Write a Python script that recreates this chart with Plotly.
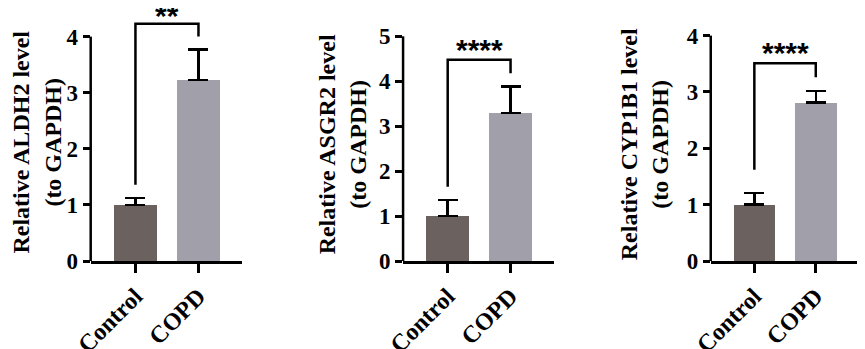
import plotly.graph_objects as go

categories = ["Control", "COPD"]
genes = ["ALDH2", "ASGR2", "CYP1B1"]
means = {"ALDH2": [1.0, 3.23], "ASGR2": [1.0, 3.29], "CYP1B1": [1.0, 2.81]}
sd_up = {"ALDH2": [0.12, 0.54], "ASGR2": [0.36, 0.59], "CYP1B1": [0.21, 0.21]}
sig_labels = {"ALDH2": "**", "ASGR2": "****", "CYP1B1": "****"}
# bracket: top level, left leg bottom, right leg bottom, star level
brackets = {"ALDH2": [4.23, 1.36, 4.0, 4.38],
            "ASGR2": [4.48, 1.65, 4.18, 4.70],
            "CYP1B1": [3.51, 1.62, 3.26, 3.70]}
y_ticks = {"ALDH2": [0, 1, 2, 3, 4], "ASGR2": [0, 1, 2, 3, 4, 5], "CYP1B1": [0, 1, 2, 3, 4]}
y_top = {"ALDH2": 4.51, "ASGR2": 5.63, "CYP1B1": 4.49}

bar_colors = ["#6b625f", "#a19fa9"]
x_domains = [[0.0965, 0.273], [0.461, 0.637], [0.820, 0.992]]
title_pos = [(-0.355, 0.468), (-0.40, 0.46), (-0.45, 0.463)]
x_range = [-0.71, 1.69]

fig = go.Figure()
serif = "Liberation Serif, Times New Roman, serif"

for i, g in enumerate(genes):
    xa = "x" if i == 0 else f"x{i+1}"
    ya = "y" if i == 0 else f"y{i+1}"
    fig.add_trace(go.Bar(
        x=categories, y=means[g], xaxis=xa, yaxis=ya,
        marker=dict(color=bar_colors, line=dict(width=0)),
        width=0.68,
        error_y=dict(type="data", array=sd_up[g], arrayminus=[0, 0], symmetric=False,
                     color="black", thickness=2.5, width=10),
        showlegend=False,
    ))
    top, lbot, rbot, star = brackets[g]
    fig.add_trace(go.Scatter(
        x=[categories[0], categories[0], categories[1], categories[1]],
        y=[lbot, top, top, rbot], xaxis=xa, yaxis=ya, mode="lines",
        line=dict(color="black", width=2.5), showlegend=False, hoverinfo="skip",
        cliponaxis=False,
    ))
    fig.add_annotation(x=0.5, y=star, xref=xa, yref=ya, text=f"<b>{sig_labels[g]}</b>",
                       showarrow=False, font=dict(family="Liberation Sans, Arial", size=30, color="black"),
                       yanchor="middle")
    # y axis title
    tx, ty = title_pos[i]
    fig.add_annotation(x=tx, y=ty, xref=f"{xa} domain", yref=f"{ya} domain",
                       text=f"<b>Relative {g} level<br>(to GAPDH)</b>", textangle=-90,
                       showarrow=False, xanchor="center", yanchor="middle",
                       font=dict(family=serif, size=24, color="black"))
    # y axis line only up to the last tick
    fig.add_shape(type="line", xref=f"{xa} domain", yref=ya, x0=0, x1=0,
                  y0=y_ticks[g][0], y1=y_ticks[g][-1], line=dict(color="black", width=2.5))

    xkey = "xaxis" if i == 0 else f"xaxis{i+1}"
    ykey = "yaxis" if i == 0 else f"yaxis{i+1}"
    fig.update_layout(**{
        xkey: dict(domain=x_domains[i], anchor=ya, type="category", range=x_range,
                   automargin=False,
                   tickvals=categories, ticktext=[f"<b>{c}</b>" for c in categories],
                   showline=True, linecolor="black", linewidth=2.5,
                   ticks="outside", ticklen=9, tickwidth=2.5, tickcolor="black",
                   tickangle=-45, showgrid=False, zeroline=False,
                   tickfont=dict(family=serif, size=24, color="black")),
        ykey: dict(domain=[0, 1], anchor=xa, range=[0, y_top[g]], automargin=False,
                   tickvals=y_ticks[g], ticktext=[f"<b>{t}</b>" for t in y_ticks[g]],
                   showline=False, ticks="outside", ticklen=7, tickwidth=2.5, tickcolor="black",
                   showgrid=False, zeroline=False,
                   tickfont=dict(family=serif, size=23, color="black")),
    })

fig.update_layout(
    template="none",
    width=857, height=341,
    margin=dict(l=0, r=0, t=0, b=88),
    plot_bgcolor="white", paper_bgcolor="white",
    bargap=0,
)
fig.write_html("out.html")
